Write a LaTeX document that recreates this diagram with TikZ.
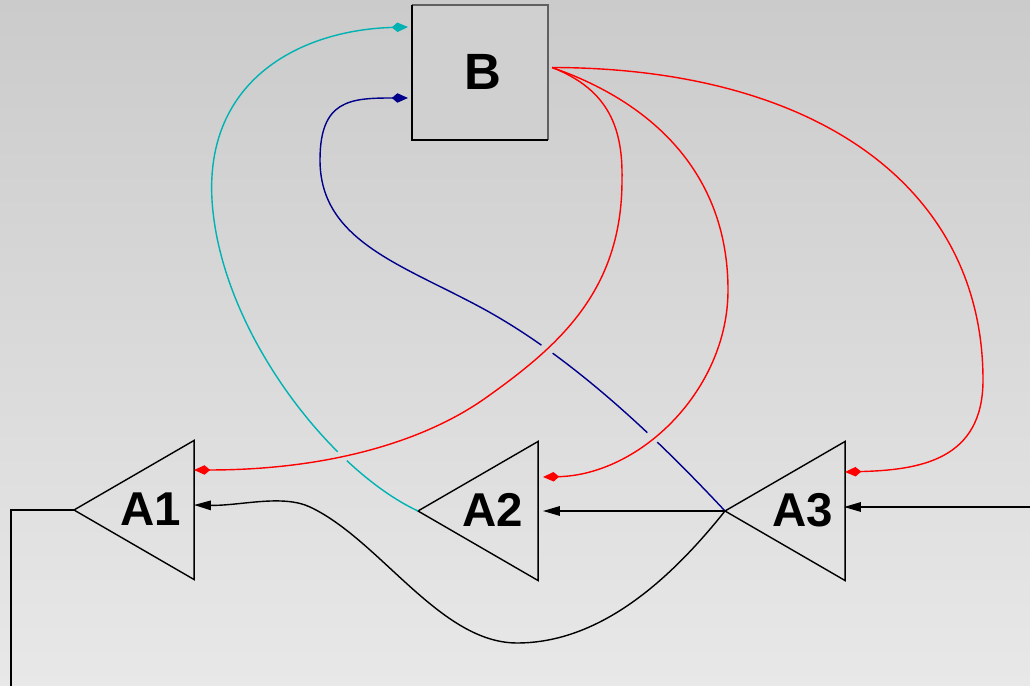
\documentclass[tikz,border=0pt]{standalone}
\usepackage{fontspec}
\setmainfont{Liberation Sans}
\usetikzlibrary{shapes.geometric,arrows.meta,calc,intersections}
\definecolor{bgtop}{RGB}{203,203,203}
\definecolor{bgbot}{RGB}{232,232,232}
\definecolor{boxfill}{RGB}{208,208,208}
\definecolor{boxedge}{RGB}{96,96,96}
\definecolor{edgered}{RGB}{255,0,0}
\definecolor{edgeblue}{RGB}{0,0,139}
\definecolor{edgecyan}{RGB}{0,178,178}
\newcommand\pathBlue{(A3.apex) .. controls (640,420) and (560,350) .. (480,307) .. controls (400,264) and (320,240) .. (320,160) .. controls (320,100) and (350,98) .. (Bi2)}
\newcommand\pathCyan{(A2.apex) .. controls (330,470) and (220,330) .. (212,200) .. controls (205,80) and (300,30) .. (Bi1)}
\begin{document}
\begin{tikzpicture}[x=0.01cm,y=-0.01cm,
  tri/.style={isosceles triangle, isosceles triangle stretches, shape border rotate=180,
    minimum width=1.39cm, minimum height=1.2cm, inner sep=0pt, outer sep=0pt,
    draw=black, line width=0.4pt},
  lbl/.style={font=\bfseries\fontsize{13.5}{14}\selectfont, inner sep=0pt},
  blbl/.style={font=\bfseries\fontsize{14.5}{15}\selectfont, inner sep=0pt},
  boxB/.style={rectangle, fill=boxfill, minimum width=1.36cm, minimum height=1.35cm,
    inner sep=0pt, outer sep=0pt},
  wire/.style={line width=0.4pt},
  ctip/.style={-{Kite[length=4.6pt,width=2.7pt,inset=1.6pt]}},
  btip/.style={-{Triangle[length=4.8pt,width=2.7pt]}}
]
\useasboundingbox (0,0) rectangle (1030,686);
\shade[top color=bgtop, bottom color=bgbot] (0,0) rectangle (1030,686);

% nodes
\node[boxB] (B) at (480,72.5) {};
\draw[line width=0.5pt, boxedge] (B.south east) -- (B.north east) -- (B.north west);
\draw[line width=0.5pt, black] (B.north west) -- (B.south west) -- (B.south east);
\node[blbl] (Bt) at (483,72) {B};

\node[tri, anchor=apex] (A1) at (74,510) {};
\node[tri, anchor=apex] (A2) at (418,511) {};
\node[tri, anchor=apex] (A3) at (725,511) {};
\node[lbl] (A1t) at ($(A1.apex)+(77,-0.5)$) {A1};
\node[lbl] (A2t) at ($(A2.apex)+(75,-1)$) {A2};
\node[lbl] (A3t) at ($(A3.apex)+(77.5,-1)$) {A3};

% ports
\coordinate (Bo)  at ($(B.east)+(4,-5)$);
\coordinate (Bi1) at ($(B.west)+(-4,-45.5)$);
\coordinate (Bi2) at ($(B.west)+(-4,25.5)$);
\coordinate (A1r) at ($(A1.apex)+(120,-40)$);
\coordinate (A1b) at ($(A1.apex)+(120,-5)$);
\coordinate (A2r) at ($(A2.apex)+(125,-34)$);
\coordinate (A2b) at ($(A2.apex)+(125,0)$);
\coordinate (A3r) at ($(A3.apex)+(120,-39)$);
\coordinate (A3b) at ($(A3.apex)+(119,-4)$);
\coordinate (Rin) at (1032,507);
\coordinate (Lout) at (11,690);

% red edges from B
\draw[wire, edgered, ctip, name path=r1] (Bo) .. controls (610,90) and (623,130) .. (622,180)
   .. controls (622,290) and (560,345) .. (487,397)
   .. controls (420,445) and (320,470) .. (A1r);
\draw[wire, edgered, ctip, name path=r2] (Bo) .. controls (660,105) and (728,180) .. (728,290)
   .. controls (728,390) and (640,475) .. (A2r);
\draw[wire, edgered, ctip] (Bo) .. controls (820,68) and (983,190) .. (983,380)
   .. controls (983,460) and (920,470) .. (A3r);

% crossings
\path[name path=bl] \pathBlue;
\path[name path=cy] \pathCyan;
\path[name intersections={of=r1 and bl, by={xa}}];
\path[name intersections={of=r2 and bl, by={xb}}];
\path[name intersections={of=r1 and cy, by={xc}}];

\begin{scope}[even odd rule]
  \clip (-10,-10) rectangle (1040,700)
     (xa) circle[radius=0.07cm] (xb) circle[radius=0.07cm] (xc) circle[radius=0.065cm];
  \draw[wire, edgeblue, ctip] \pathBlue;
  \draw[wire, edgecyan, ctip] \pathCyan;
\end{scope}

% black edges
\draw[wire, black, btip] (Rin) -- (A3b);
\draw[wire, black, btip] (A3.apex) -- (A2b);
\draw[wire, black, btip] (A3.apex) .. controls (670,580) and (600,643) .. (517,643)
   .. controls (440,643) and (380,540) .. (310,507)
   .. controls (282,494) and (240,506) .. (A1b);
\draw[wire, black] (A1.apex) -| (Lout);
\end{tikzpicture}
\end{document}
